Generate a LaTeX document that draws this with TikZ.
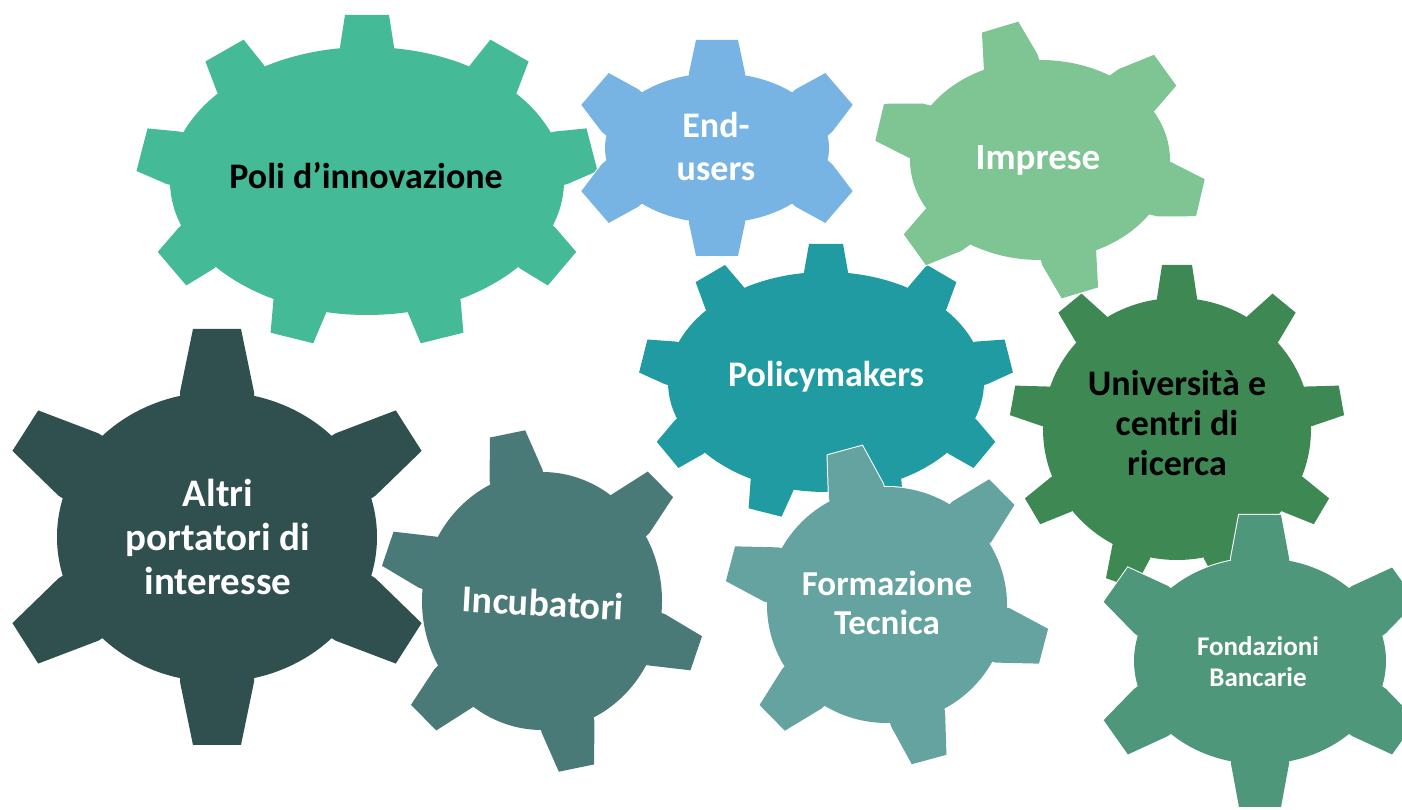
\documentclass[tikz,border=0pt]{standalone}
\usepackage{fontspec}
\setmainfont{Carlito}
\begin{document}
\pgfkeys{/gear/.cd,
  rx/.initial=100, ry/.initial=100, n/.initial=6, t0/.initial=90,
  len/.initial=30, wb/.initial=25, wt/.initial=18, aff/.initial=0}
\newcommand\gearbody[2]{%
  \begingroup
  \pgfkeys{/gear/.cd,rx=100,ry=100,n=6,t0=90,len=30,wb=25,wt=18,aff=0,#1}%
  \pgfmathsetmacro\grx{\pgfkeysvalueof{/gear/rx}}%
  \pgfmathsetmacro\gry{\pgfkeysvalueof{/gear/ry}}%
  \pgfmathtruncatemacro\gn{\pgfkeysvalueof{/gear/n}}%
  \pgfmathsetmacro\gtz{\pgfkeysvalueof{/gear/t0}}%
  \pgfmathsetmacro\glen{\pgfkeysvalueof{/gear/len}}%
  \pgfmathsetmacro\gwb{\pgfkeysvalueof{/gear/wb}}%
  \pgfmathsetmacro\gwt{\pgfkeysvalueof{/gear/wt}}%
  \pgfmathsetmacro\gaff{\pgfkeysvalueof{/gear/aff}}%
  \path[#2] (0,0) ellipse [x radius=\grx, y radius=\gry];
  \foreach \k in {1,...,\gn}{%
    \pgfmathsetmacro\gt{\gtz+360*(\k-1)/\gn}%
    \pgfmathsetmacro\gpx{\grx*cos(\gt)}%
    \pgfmathsetmacro\gpy{\gry*sin(\gt)}%
    \pgfmathsetmacro\gdir{\gaff>0.5 ? atan2(\gry*sin(\gt),\grx*cos(\gt)) : atan2(\grx*sin(\gt),\gry*cos(\gt))}%
    \path[#2, shift={(\gpx,\gpy)}, rotate=\gdir]
      (-14,-\gwb) -- (0,-\gwb) -- (\glen,-\gwt) -- (\glen,\gwt) -- (0,\gwb) -- (-14,\gwb) -- cycle;
  }%
  \endgroup}
\newcommand\gear[3]{%
  \begin{scope}[shift={#1}]
    \gearbody{#2}{draw=white, line width=2}
    \gearbody{#2}{fill=#3}
  \end{scope}}
\definecolor{cPoli}{HTML}{44BA97}
\definecolor{cEnd}{HTML}{77B4E3}
\definecolor{cImp}{HTML}{7FC594}
\definecolor{cPol}{HTML}{1F9BA1}
\definecolor{cUni}{HTML}{3E8853}
\definecolor{cAltri}{HTML}{30504F}
\definecolor{cInc}{HTML}{4A7A77}
\definecolor{cForm}{HTML}{65A3A0}
\definecolor{cFond}{HTML}{4F977A}
\tikzset{
  lab/.style={font=\bfseries\fontsize{36}{42}\selectfont, align=center, text=white, inner sep=0pt},
  labdark/.style={lab, text=black}
}
\begin{tikzpicture}[x=1pt,y=1pt]
\useasboundingbox (0,0) rectangle (1402,810);
\fill[white] (0,0) rectangle (1402,810);
% gears (y = 810 - pixel row)
\gear{(367,629)}{rx=197,ry=134,n=9,t0=90,len=32,wb=27,wt=22}{cPoli}
\gear{(717,662)}{rx=112,ry=75,n=6,t0=90,len=33,wb=28,wt=21}{cEnd}
\gear{(826,428)}{rx=158,ry=110,n=9,t0=90,len=28,wb=22,wt=17}{cPol}
\gear{(1177,381)}{rx=134,ry=131,n=9,t0=90,len=33,wb=20,wt=15}{cUni}
\gear{(1040,650)}{rx=130,ry=100,n=6,t0=43,len=37,wb=28,wt=19,aff=1}{cImp}
\gear{(217,273)}{rx=160,ry=145,n=6,t0=90,len=63,wb=37,wt=24}{cAltri}
\gear{(542,209)}{rx=120,ry=129,n=6,t0=42.5,len=42,wb=27,wt=18,aff=1}{cInc}
\gear{(887,205)}{rx=120,ry=118,n=6,t0=45,len=42,wb=28,wt=18,aff=1}{cForm}
\gear{(1260,149)}{rx=126,ry=103,n=6,t0=90,len=43,wb=29,wt=21}{cFond}
% labels
\node[labdark] (poli) at (366,634) {Poli d’innovazione};
\node[lab, font=\bfseries\fontsize{36}{43}\selectfont] (end) at (716,663) {End-\\users};
\node[lab, font=\bfseries\fontsize{37}{42}\selectfont] (imp) at (1038,650) {Imprese};
\node[lab] (pol) at (826,433) {Policymakers};
\node[labdark, font=\bfseries\fontsize{36}{40}\selectfont] (uni) at (1177,387) {Università e\\centri di\\ricerca};
\node[lab, font=\bfseries\fontsize{39}{44}\selectfont] (altri) at (218,273) {Altri\\portatori di\\interesse};
\node[lab, rotate=-3, font=\bfseries\fontsize{38}{42}\selectfont] (inc) at (543,207) {Incubatori};
\node[lab, font=\bfseries\fontsize{35}{39}\selectfont] (form) at (887,207) {Formazione\\Tecnica};
\node[lab, font=\bfseries\fontsize{27}{31}\selectfont] (fond) at (1258,148) {Fondazioni\\Bancarie};
\end{tikzpicture}
\end{document}
